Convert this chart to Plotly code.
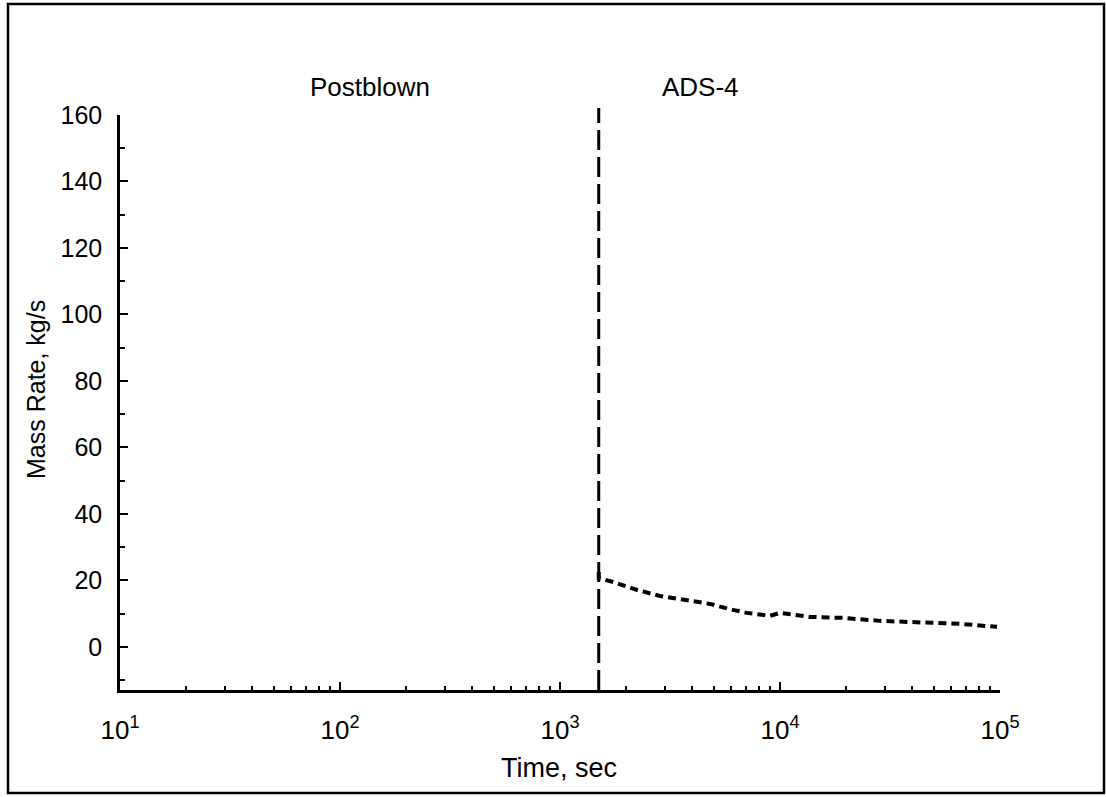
import math
import plotly.graph_objects as go

# Mass flow rate after the switch to ADS-4 (time in s, rate in kg/s)
time_s = [1500, 1500, 1740, 2240, 2850, 3620, 4810, 6110, 7080, 9000, 10000,
          13700, 19300, 28500, 43300, 65800, 97000]
mass_rate = [22.5, 20.7, 19.5, 17.1, 15.3, 14.1, 12.9, 11.1, 10.2, 9.3, 10.2,
             9.0, 8.7, 7.8, 7.2, 6.9, 6.0]

# Phase boundary and phase labels
t_switch = 1500
phase_labels = ["Postblown", "ADS-4"]
phase_label_t = [137, 4330]

x_tick_vals = [10, 100, 1000, 10000, 100000]
x_tick_text = ["10<sup>1</sup>", "10<sup>2</sup>", "10<sup>3</sup>", "10<sup>4</sup>", "10<sup>5</sup>"]
y_tick_vals = [0, 20, 40, 60, 80, 100, 120, 140, 160]

W, H = 1106, 797
L, R, T, B = 120, 106, 115, 107
pw, ph = W - L - R, H - T - B

def px(xp):
    return (xp - L) / pw

def py(yp):
    return (H - B - yp) / ph

FONT = "Liberation Sans, Arial, sans-serif"

fig = go.Figure()
fig.add_trace(go.Scatter(
    x=time_s, y=mass_rate, mode="lines",
    line=dict(color="black", width=4, dash="8px,5px"),
    showlegend=False,
))

# Dashed divider between the two phases
fig.add_shape(type="line", xref="x", yref="paper",
              x0=t_switch, x1=t_switch, y0=0, y1=1.012,
              line=dict(color="black", width=3, dash="20px,7px"))

# Outer frame around the whole figure
fig.add_shape(type="rect", xref="paper", yref="paper",
              x0=px(8), x1=px(1104), y0=py(793), y1=py(4),
              line=dict(color="black", width=2.5))

for lbl, lt in zip(phase_labels, phase_label_t):
    fig.add_annotation(x=math.log10(lt), y=py(87), xref="x", yref="paper",
                       text=lbl, showarrow=False,
                       font=dict(family=FONT, size=26, color="black"),
                       xanchor="center", yanchor="middle")

fig.add_annotation(x=px(36), y=py(390), xref="paper", yref="paper",
                   text="Mass Rate, kg/s", textangle=-90, showarrow=False,
                   font=dict(family=FONT, size=25, color="black"),
                   xanchor="center", yanchor="middle")
fig.add_annotation(x=px(559), y=py(768), xref="paper", yref="paper",
                   text="Time, sec", showarrow=False,
                   font=dict(family=FONT, size=27, color="black"),
                   xanchor="center", yanchor="middle")

fig.update_layout(
    width=W, height=H,
    margin=dict(l=L, r=R, t=T, b=B),
    paper_bgcolor="white", plot_bgcolor="white",
    font=dict(family=FONT, size=25, color="black"),
)
fig.update_xaxes(
    type="log", range=[1, 5],
    tickvals=x_tick_vals, ticktext=x_tick_text,
    tickfont=dict(size=26),
    ticks="inside", ticklen=8, tickwidth=2, tickcolor="black",
    minor=dict(ticks="inside", ticklen=4, tickwidth=1.5, tickcolor="black",
               dtick="D1", showgrid=False),
    showline=True, linecolor="black", linewidth=2.5,
    showgrid=False, zeroline=False, ticklabelstandoff=15,
)
fig.update_yaxes(
    range=[-13, 160],
    tickvals=y_tick_vals,
    ticks="inside", ticklen=8, tickwidth=2, tickcolor="black",
    minor=dict(ticks="inside", ticklen=5, tickwidth=1.5, tickcolor="black",
               dtick=10, showgrid=False),
    showline=True, linecolor="black", linewidth=2.5,
    showgrid=False, zeroline=False, ticklabelstandoff=10,
)

fig.write_html("out.html")
